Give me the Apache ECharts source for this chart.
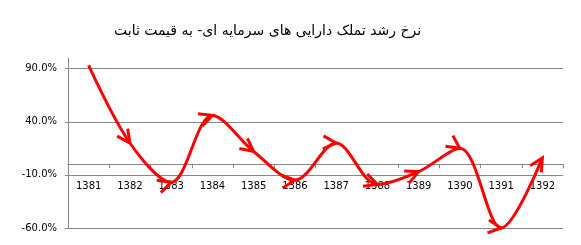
<!DOCTYPE html>
<html>
<head>
<meta charset="utf-8">
<script src="https://cdn.jsdelivr.net/npm/echarts@6/dist/echarts.min.js"></script>
<style>
html,body{margin:0;padding:0;background:#fff;}
#c{width:581px;height:245px;}
</style>
</head>
<body>
<div id="c"></div>
<script>
var titleText = 'نرخ رشد تملک دارایی های سرمایه ای- به قیمت ثابت';
var years = ['1381','1382','1383','1384','1385','1386','1387','1388','1389','1390','1391','1392'];
var growth = [93, 20, -17, 46, 12, -15, 20, -19, -7, 15, -60, 6];
var yMin = -60, yMax = 100, yStep = 50;

var chart = echarts.init(document.getElementById('c'), null, {renderer: 'canvas'});
var font = 'DejaVu Sans';
var gridColor = '#888888';

function baseOption(seriesData) {
  return {
    animation: false,
    title: {
      text: titleText,
      left: 109, top: 19,
      textStyle: {fontFamily: font, fontSize: 14, fontWeight: 'normal', color: '#000'}
    },
    grid: {left: 68, right: 18, top: 58, bottom: 17, containLabel: false, outerBoundsMode: 'none'},
    xAxis: [{
      type: 'category',
      data: years,
      boundaryGap: true,
      axisLine: {onZero: true, lineStyle: {color: gridColor, width: 1}},
      axisTick: {show: true, length: 4, lineStyle: {color: gridColor}},
      axisLabel: {show: false},
      splitLine: {show: false}
    }, {
      type: 'category',
      data: years,
      boundaryGap: true,
      position: 'bottom',
      offset: -52,
      axisLine: {show: false, onZero: false},
      axisTick: {show: false},
      axisLabel: {fontFamily: font, fontSize: 10, color: '#000', margin: 5, interval: 0},
      splitLine: {show: false}
    }],
    yAxis: {
      type: 'value',
      min: yMin, max: yMax, interval: yStep,
      axisLine: {show: true, lineStyle: {color: gridColor, width: 1}},
      axisTick: {show: true, length: 3, lineStyle: {color: gridColor}},
      axisLabel: {fontFamily: font, fontSize: 10, color: '#000', margin: 11, showMaxLabel: false,
        formatter: function (v) { return v.toFixed(1) + '%'; }},
      splitLine: {show: true, showMaxLine: false, lineStyle: {color: gridColor, width: 1}}
    },
    series: [{
      type: 'line',
      xAxisIndex: 0,
      data: seriesData,
      smooth: 0.33,
      showAllSymbol: true,
      symbol: 'none',
      lineStyle: {color: '#ff0000', width: 3},
      itemStyle: {color: 'none', borderColor: '#ff0000', borderWidth: 3},
      z: 5
    }]
  };
}

chart.setOption(baseOption(growth.slice()));

var pts = growth.map(function (v, i) { return chart.convertToPixel({seriesIndex: 0}, [i, v]); });
var size = 13;
var items = growth.map(function (v, i) {
  if (i === 0) return {value: v, symbol: 'none'};
  var a = pts[i - 1], b = (i < pts.length - 1) ? pts[i + 1] : pts[i];
  var dx = b[0] - a[0], dy = b[1] - a[1];
  var len = Math.sqrt(dx * dx + dy * dy) || 1;
  var ux = dx / len, uy = dy / len;
  var rot = Math.atan2(-dy, dx) * 180 / Math.PI - 90;
  return {
    value: v,
    symbol: 'path://M0,10 L5,0 L10,10',
    symbolSize: size,
    symbolRotate: rot,
    symbolOffset: [-ux * size / 2, -uy * size / 2]
  };
});
chart.setOption(baseOption(items), true);
</script>
</body>
</html>
